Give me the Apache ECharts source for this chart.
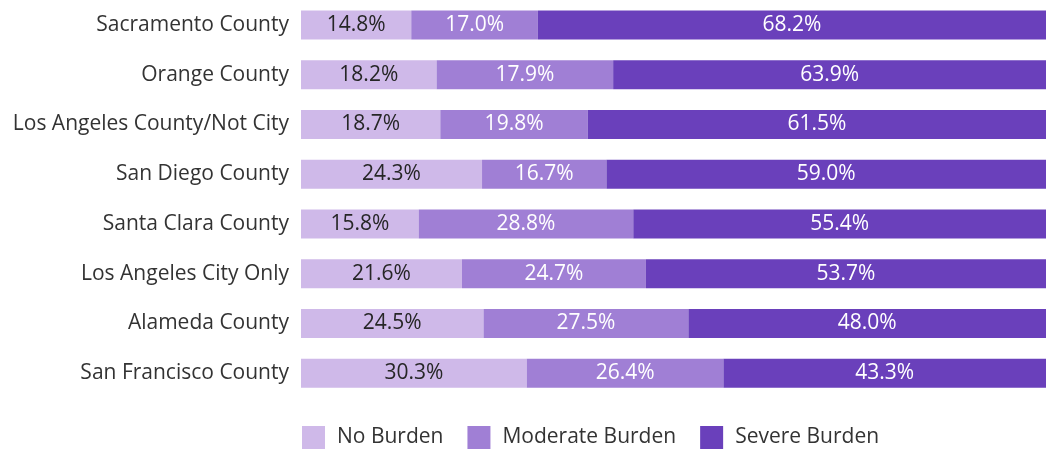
<!DOCTYPE html>
<html><head><meta charset="utf-8">
<script src="https://cdn.jsdelivr.net/npm/echarts@6/dist/echarts.min.js"></script>
<style>html,body{margin:0;padding:0;background:#fff}#c{width:1047px;height:454px}</style>
</head><body><div id="c"></div>
<script>
const categories = ["Sacramento County","Orange County","Los Angeles County/Not City","San Diego County","Santa Clara County","Los Angeles City Only","Alameda County","San Francisco County"];
// bar lengths as drawn in the picture
const noBurden = [14.8,18.2,18.7,24.3,15.8,21.6,24.5,30.3];
const moderateBurden = [17.0,23.7,19.8,16.7,28.8,24.7,27.5,26.4];
const severeBurden = [68.2,58.1,61.5,59.0,55.4,53.7,48.0,43.3];
// printed labels
const noBurdenLabels = ["14.8%","18.2%","18.7%","24.3%","15.8%","21.6%","24.5%","30.3%"];
const moderateBurdenLabels = ["17.0%","17.9%","19.8%","16.7%","28.8%","24.7%","27.5%","26.4%"];
const severeBurdenLabels = ["68.2%","63.9%","61.5%","59.0%","55.4%","53.7%","48.0%","43.3%"];
const seriesNames = ["No Burden","Moderate Burden","Severe Burden"];
const colors = ["#cfb9e9","#a07fd5","#6a40bb"];
const labelColors = ["#262626","#ffffff","#ffffff"];
const font = "'Open Sans', sans-serif";
const chart = echarts.init(document.getElementById('c'));
const datas = [noBurden, moderateBurden, severeBurden];
const labels = [noBurdenLabels, moderateBurdenLabels, severeBurdenLabels];
chart.setOption({
  animation:false,
  grid:{left:301,right:1,top:-2,bottom:56,containLabel:false},
  xAxis:{type:'value',min:0,max:100,show:false},
  yAxis:{type:'category',data:categories,inverse:true,axisLine:{show:false},axisTick:{show:false},
    axisLabel:{margin:12,fontSize:21,color:'#333',fontFamily:font}},
  legend:{top:426,left:302,padding:0,itemWidth:23,itemHeight:23,itemGap:24,icon:'rect',
    textStyle:{fontSize:21,color:'#333',fontFamily:font,padding:[4,0,0,7]},data:seriesNames},
  series: datas.map((d,i)=>({
    name:seriesNames[i],type:'bar',stack:'s',barWidth:29,data:d,
    itemStyle:{color:colors[i]},
    label:{show:true,position:'inside',formatter:p=>labels[i][p.dataIndex],fontSize:21,color:labelColors[i],fontFamily:font}
  }))
});
</script></body></html>
